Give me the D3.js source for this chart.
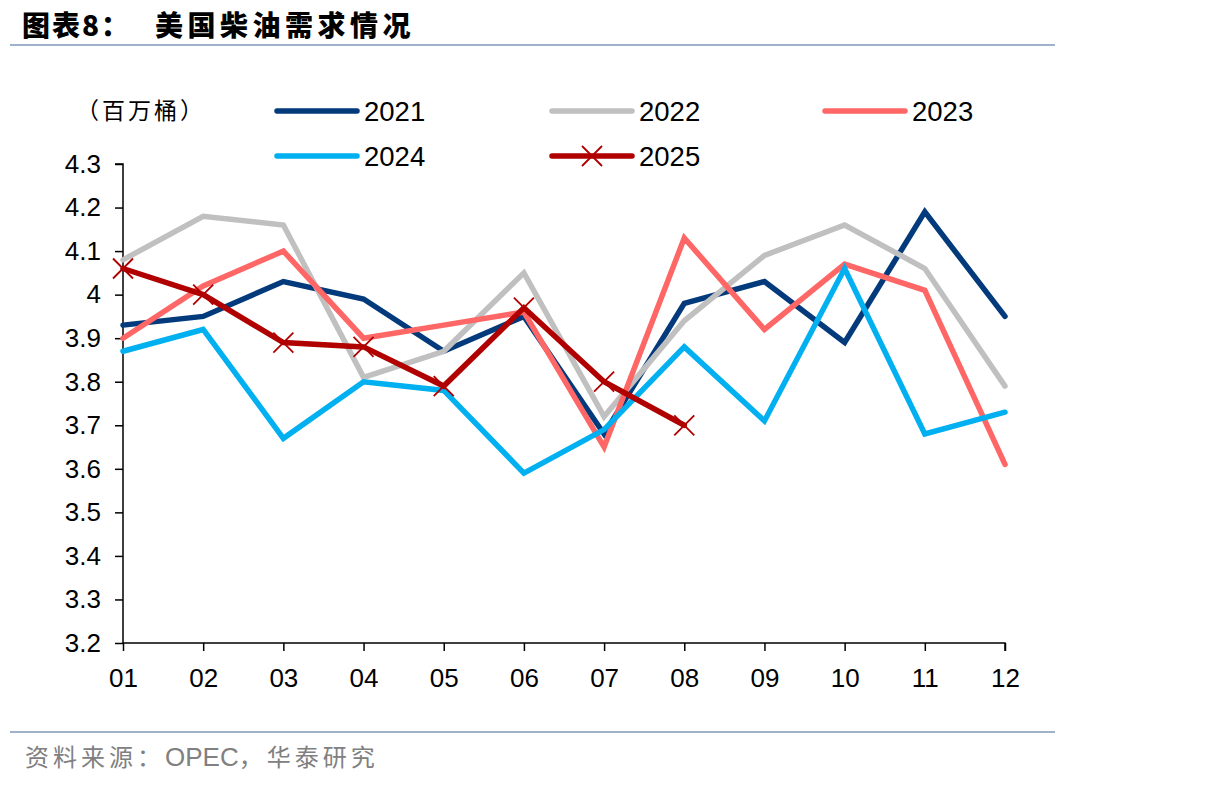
<!DOCTYPE html>
<html lang="zh">
<head>
<meta charset="UTF-8">
<title>美国柴油需求情况</title>
<style>
    body { margin: 0; background: #fff; }
    svg { display: block; }
</style>
</head>
<body>
<div id="chart"></div>
<script src="https://d3js.org/d3.v7.min.js"></script>
<script>
    const months = ['01', '02', '03', '04', '05', '06', '07', '08', '09', '10', '11', '12'];
    const years = ['2021', '2022', '2023', '2024', '2025'];
    const v2021 = [3.93, 3.95, 4.03, 3.99, 3.87, 3.95, 3.68, 3.98, 4.03, 3.89, 4.19, 3.95];
    const v2022 = [4.08, 4.18, 4.16, 3.81, 3.87, 4.05, 3.72, 3.94, 4.09, 4.16, 4.06, 3.79];
    const v2023 = [3.90, 4.02, 4.10, 3.90, 3.93, 3.96, 3.65, 4.13, 3.92, 4.07, 4.01, 3.61];
    const v2024 = [3.87, 3.92, 3.67, 3.80, 3.78, 3.59, 3.69, 3.88, 3.71, 4.06, 3.68, 3.73];
    const v2025 = [4.06, 4.00, 3.89, 3.88, 3.79, 3.97, 3.80, 3.70];
    const yTicks = [3.2, 3.3, 3.4, 3.5, 3.6, 3.7, 3.8, 3.9, 4, 4.1, 4.2, 4.3];

    const colors = ['#033a7c', '#c0c0c0', '#ff6666', '#00b0f0', '#b00000'];
    const seriesVals = [v2021, v2022, v2023, v2024, v2025];
    const series = years.map((y, i) => ({ name: y, values: seriesVals[i], color: colors[i], marker: y === '2025' }));

    const W = 1206, H = 787;
    const font = 'Arial, "Liberation Sans", sans-serif';
    const cjk = '"Noto Sans CJK SC", sans-serif';

    const svg = d3.select('#chart').append('svg')
        .attr('width', W).attr('height', H);

    // 标题
    svg.append('text')
        .attr('x', 22).attr('y', 36)
        .attr('font-family', cjk).attr('font-weight', 900)
        .attr('font-size', 28).attr('letter-spacing', 2).attr('fill', '#000')
        .text('图表8：');
    svg.append('text')
        .attr('x', 155).attr('y', 36)
        .attr('font-family', cjk).attr('font-weight', 900)
        .attr('font-size', 28).attr('letter-spacing', 4.5).attr('fill', '#000')
        .text('美国柴油需求情况');
    svg.append('line')
        .attr('x1', 10).attr('x2', 1055).attr('y1', 45).attr('y2', 45)
        .attr('stroke', '#9fb3c8').attr('stroke-width', 2);

    // 比例尺
    const x = d3.scalePoint().domain(months).range([123, 1005]);
    const y = d3.scaleLinear().domain([3.2, 4.3]).range([643, 164]);

    const yAxis = svg.append('g').attr('transform', 'translate(123,0)')
        .call(d3.axisLeft(y).tickValues(yTicks).tickSize(8).tickPadding(14)
            .tickFormat(d => d3.format('')(+d.toFixed(1))));
    const xAxis = svg.append('g').attr('transform', 'translate(0,643)')
        .call(d3.axisBottom(x).tickSize(8).tickPadding(18));
    [yAxis, xAxis].forEach(a => {
        a.select('.domain').attr('stroke', '#000').attr('stroke-width', 1.5);
        a.selectAll('.tick line').attr('stroke', '#000').attr('stroke-width', 1.5);
        a.selectAll('.tick text').attr('font-family', font).attr('font-size', 26).attr('fill', '#000');
    });
    // 轴线延伸到刻度外端
    yAxis.select('.domain').attr('d', `M-8,${y(4.3)}H0V${y(3.2)}`);
    xAxis.select('.domain').attr('d', `M${x('01')},0H${x('12')}V8`);

    // 折线
    const line = d3.line().x((d, i) => x(months[i])).y(d => y(d));
    const g = svg.append('g');
    series.forEach(s => {
        g.append('path')
            .datum(s.values)
            .attr('d', line)
            .attr('fill', 'none')
            .attr('stroke', s.color)
            .attr('stroke-width', 5.5)
            .attr('stroke-linejoin', 'miter')
            .attr('stroke-linecap', 'round');
    });

    const cross = (sel, cx, cy, r, color) => {
        sel.append('path')
            .attr('d', `M${cx - r},${cy - r}L${cx + r},${cy + r}M${cx - r},${cy + r}L${cx + r},${cy - r}`)
            .attr('stroke', color).attr('stroke-width', 1.8).attr('fill', 'none');
    };
    const s25 = series[4];
    s25.values.forEach((v, i) => cross(g, x(months[i]), y(v), 10, s25.color));

    // 单位
    svg.append('text')
        .attr('x', 76).attr('y', 119)
        .attr('font-family', cjk).attr('font-size', 23).attr('letter-spacing', 3)
        .attr('fill', '#000')
        .text('（百万桶）');

    // 图例
    const legPos = [[277, 111], [552, 111], [825, 111], [277, 156], [552, 156]];
    series.forEach((s, i) => {
        const [lx, ly] = legPos[i];
        svg.append('line')
            .attr('x1', lx).attr('x2', lx + 80).attr('y1', ly).attr('y2', ly)
            .attr('stroke', s.color).attr('stroke-width', 5.5).attr('stroke-linecap', 'round');
        if (s.marker) cross(svg, lx + 40, ly, 10, s.color);
        svg.append('text')
            .attr('x', lx + 87).attr('y', ly + 10)
            .attr('font-family', font).attr('font-size', 27.5).attr('fill', '#000')
            .text(s.name);
    });

    // 来源
    svg.append('line')
        .attr('x1', 10).attr('x2', 1055).attr('y1', 732).attr('y2', 732)
        .attr('stroke', '#9fb3c8').attr('stroke-width', 2);
    const src = svg.append('text')
        .attr('x', 25).attr('y', 766)
        .attr('font-size', 24).attr('fill', '#808080');
    src.append('tspan').attr('font-family', cjk).attr('letter-spacing', 4).text('资料来源：');
    src.append('tspan').attr('font-family', font).attr('font-size', 26).text('OPEC');
    src.append('tspan').attr('font-family', cjk).attr('letter-spacing', 4).text('，华泰研究');
</script>
</body>
</html>
